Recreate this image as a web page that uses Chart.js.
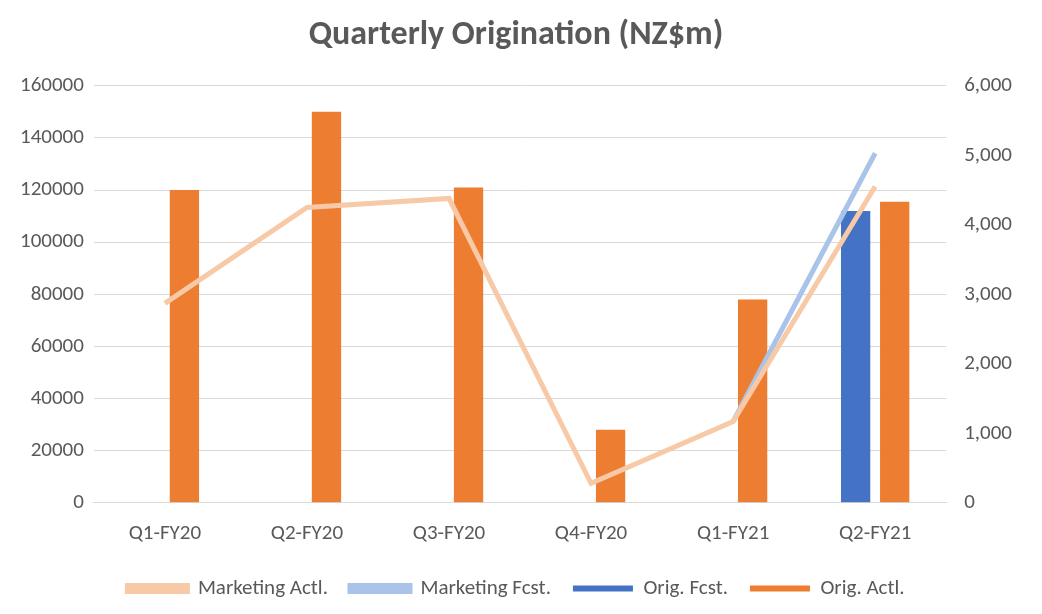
<!DOCTYPE html>
<html>
<head>
<meta charset="utf-8">
<script src="https://cdn.jsdelivr.net/npm/chart.js@4"></script>
<style>
  body { margin: 0; background: #fff; }
</style>
</head>
<body>
<canvas id="myChart" width="1042" height="614"></canvas>
<script>
var quarters = ['Q1-FY20', 'Q2-FY20', 'Q3-FY20', 'Q4-FY20', 'Q1-FY21', 'Q2-FY21'];
var origFcst = [null, null, null, null, null, 112000];
var origActl = [120000, 150000, 121000, 28000, 78000, 115500];
var mktFcst = [null, null, null, null, 1170, 5030];
var mktActl = [2870, 4250, 4380, 280, 1170, 4550];

Chart.defaults.font.family = 'Calibri, Carlito, "Open Sans", sans-serif';
Chart.defaults.color = '#595959';

var ctx = document.getElementById('myChart');
var chart = new Chart(ctx, {
    type: 'bar',
    data: {
        labels: quarters,
        datasets: [
            { label: 'Orig. Fcst.', data: origFcst, backgroundColor: '#4472C4', yAxisID: 'y', order: 2,
              barPercentage: 0.75, categoryPercentage: 0.55 },
            { label: 'Orig. Actl.', data: origActl, backgroundColor: '#ED7D31', yAxisID: 'y', order: 2,
              barPercentage: 0.75, categoryPercentage: 0.55 },
            { label: 'Marketing Fcst.', type: 'line', data: mktFcst, borderColor: '#A9C4E8', backgroundColor: '#A9C4E8',
              borderWidth: 5, pointRadius: 0, yAxisID: 'y1', order: 1 },
            { label: 'Marketing Actl.', type: 'line', data: mktActl, borderColor: '#F7C9A6', backgroundColor: '#F7C9A6',
              borderWidth: 5, pointRadius: 0, yAxisID: 'y1', order: 0 }
        ]
    },
    options: {
        responsive: false,
        animation: false,
        layout: { padding: { left: 10, right: 20, top: 10, bottom: 5 } },
        plugins: {
            title: { display: true, text: 'Quarterly Origination (NZ$m)', font: { size: 34, weight: 'bold' },
                     color: '#595959', padding: { top: 5, bottom: 30 } },
            legend: { position: 'bottom', labels: { font: { size: 21 }, boxWidth: 60, boxHeight: 6, padding: 22 } },
            tooltip: { enabled: false }
        },
        scales: {
            x: { grid: { display: false }, border: { color: '#d9d9d9' },
                 ticks: { font: { size: 21 }, padding: 10, maxRotation: 0 } },
            y: { position: 'left', min: 0, max: 160000, ticks: { stepSize: 20000, font: { size: 21 }, padding: 10,
                   callback: function (v) { return String(v); } },
                 grid: { color: '#d9d9d9', drawTicks: false }, border: { display: false } },
            y1: { position: 'right', min: 0, max: 6000, ticks: { stepSize: 1000, font: { size: 21 }, padding: 10 },
                  grid: { display: false }, border: { display: false } }
        }
    }
});
</script>
</body>
</html>
